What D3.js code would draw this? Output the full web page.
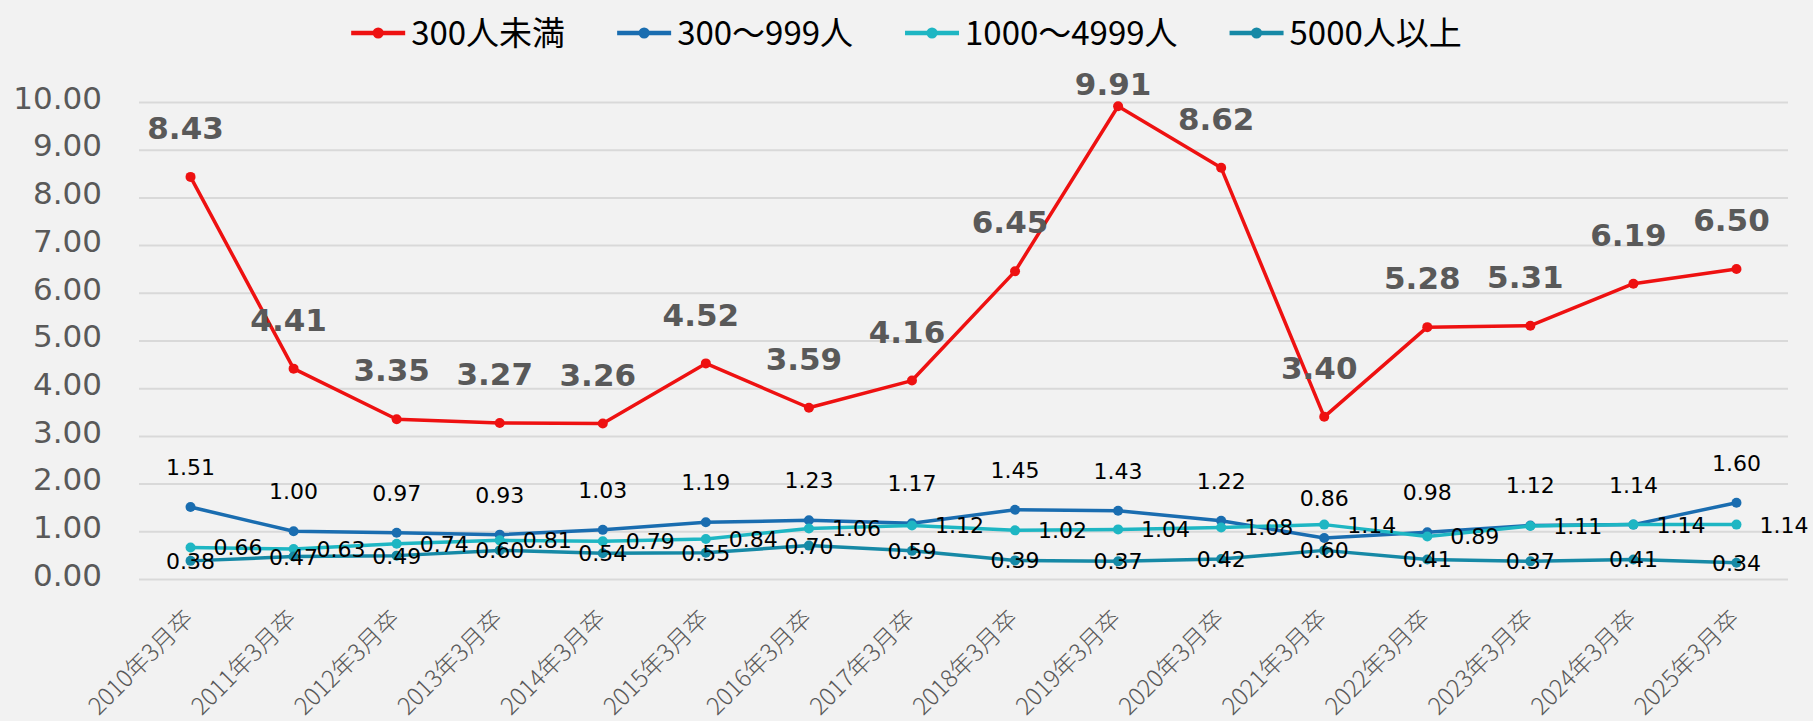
<!DOCTYPE html>
<html><head><meta charset="utf-8">
<script src="https://cdn.jsdelivr.net/npm/d3@7/dist/d3.min.js"></script>
<style>
html,body{margin:0;padding:0;background:#f2f2f2;}
svg{display:block;}
</style></head>
<body>
<svg id="chart" width="1813" height="721"></svg>
<script>
const categories = ["2010年3月卒","2011年3月卒","2012年3月卒","2013年3月卒","2014年3月卒","2015年3月卒","2016年3月卒","2017年3月卒","2018年3月卒","2019年3月卒","2020年3月卒","2021年3月卒","2022年3月卒","2023年3月卒","2024年3月卒","2025年3月卒"];
const seriesNames = ["300人未満","300～999人","1000～4999人","5000人以上"];
const small = [8.43,4.41,3.35,3.27,3.26,4.52,3.59,4.16,6.45,9.91,8.62,3.40,5.28,5.31,6.19,6.50];
const mid = [1.51,1.00,0.97,0.93,1.03,1.19,1.23,1.17,1.45,1.43,1.22,0.86,0.98,1.12,1.14,1.60];
const large = [0.66,0.63,0.74,0.81,0.79,0.84,1.06,1.12,1.02,1.04,1.08,1.14,0.89,1.11,1.14,1.14];
const huge = [0.38,0.47,0.49,0.60,0.54,0.55,0.70,0.59,0.39,0.37,0.42,0.60,0.41,0.37,0.41,0.34];
const yTicks = [0,1,2,3,4,5,6,7,8,9,10];

const colors = ["#ee1111","#1a6db0","#1eb6c3","#1689a6"];
const seriesValues = [small, mid, large, huge];
// label placement style per series: top-bold, top, right, center
const labelModes = ["topBold","top","right","center"];

const svg = d3.select("#chart");
const W = 1813, H = 721;
const plotL = 139, plotR = 1788, plotT = 102, plotB = 579;

const x = d3.scalePoint().domain(categories).range([plotL, plotR]).padding(0.5);
const y = d3.scaleLinear().domain([0,10]).range([plotB, plotT]);

// gridlines
const yAxis = d3.axisLeft(y).tickValues(yTicks).tickSize(-(plotR-plotL)).tickFormat(d3.format(".2f")).tickPadding(37);
const gy = svg.append("g").attr("transform",`translate(${plotL},0)`).call(yAxis);
gy.select(".domain").remove();
gy.selectAll(".tick line").attr("stroke","#d9d9d9").attr("stroke-width",2);
gy.selectAll(".tick text").attr("fill","#595959").attr("font-family","DejaVu Sans, Verdana, sans-serif")
  .attr("font-size",31).attr("dy","0.2em");

// x labels
const xAxis = d3.axisBottom(x).tickSize(0).tickPadding(0);
const gx = svg.append("g").attr("transform",`translate(0,${plotB})`).call(xAxis);
gx.select(".domain").remove();
gx.selectAll(".tick text")
  .attr("fill","#595959").attr("font-family","Noto Sans CJK JP, sans-serif").attr("font-size",24)
  .attr("font-weight",300)
  .attr("text-anchor","end").attr("dy",0).attr("y",0)
  .attr("transform","translate(4,41) rotate(-45)");

// lines
const line = d3.line().x((d,i)=>x(categories[i])).y(d=>y(d));
seriesValues.forEach((vals, s) => {
  const g = svg.append("g");
  g.append("path").datum(vals).attr("d", line).attr("fill","none")
    .attr("stroke", colors[s]).attr("stroke-width",3.5).attr("stroke-linejoin","round");
  g.selectAll("circle").data(vals).join("circle")
    .attr("cx",(d,i)=>x(categories[i])).attr("cy",d=>y(d)).attr("r",5).attr("fill",colors[s]);
});

// labels
seriesValues.forEach((vals, s) => {
  const mode = labelModes[s];
  const g = svg.append("g");
  g.selectAll("text").data(vals).join("text")
    .text(d=>d.toFixed(2))
    .attr("font-family","DejaVu Sans, Verdana, sans-serif")
    .attr("font-size", mode==="topBold" ? 31 : 22)
    .attr("font-weight", mode==="topBold" ? "bold" : "normal")
    .attr("fill", mode==="topBold" ? "#595959" : "#000")
    .attr("text-anchor", mode==="right" ? "start" : "middle")
    .attr("dy","0.36em")
    .attr("x",(d,i)=>{
      const cx = x(categories[i]);
      if (mode==="right") return cx + 23;
      if (mode==="topBold") return cx - 5;
      return cx;
    })
    .attr("y", d=>{
      const cy = y(d);
      if (mode==="topBold") return Math.max(cy - 49, plotT - 18);
      if (mode==="top") return cy - 40;
      return cy;
    });
});

// legend
const legend = svg.append("g").attr("transform","translate(0,33)");
const items = [];
seriesNames.forEach((name, s) => {
  const it = legend.append("g");
  it.append("line").attr("x1",0).attr("x2",54).attr("y1",0).attr("y2",0)
    .attr("stroke",colors[s]).attr("stroke-width",4.3);
  it.append("circle").attr("cx",27).attr("cy",0).attr("r",5.5).attr("fill",colors[s]);
  const t = it.append("text").attr("x",60).attr("dy","0.36em").text(name)
    .attr("font-family","Noto Sans CJK JP, sans-serif").attr("font-size",33).attr("fill","#000");
  const w = 60 + t.node().getComputedTextLength();
  items.push({it, w});
});
const gap = 52;
const total = items.reduce((a,b)=>a+b.w,0) + gap*(items.length-1);
let start = W/2 - total/2;
items.forEach(({it,w})=>{ it.attr("transform",`translate(${start},0)`); start += w + gap; });
</script>
</body></html>
